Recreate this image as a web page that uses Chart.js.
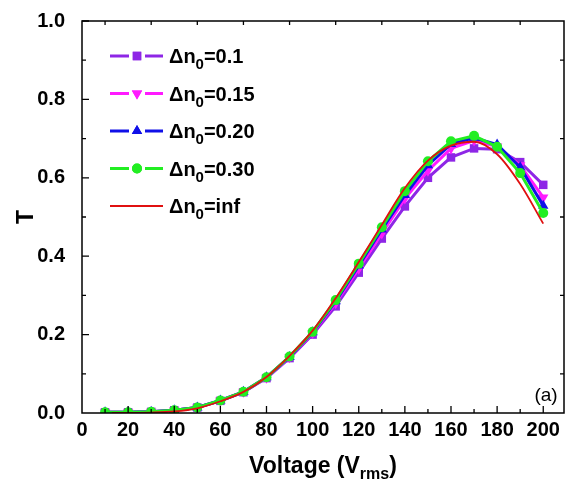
<!DOCTYPE html>
<html>
<head>
<meta charset="utf-8">
<script src="https://cdn.jsdelivr.net/npm/chart.js@4.4.1/dist/chart.umd.min.js"></script>
<style>
html, body { margin: 0; padding: 0; background: #fff; }
#wrap { width: 570px; height: 482px; }
</style>
</head>
<body>
<div id="wrap"><canvas id="chart" width="570" height="482"></canvas></div>
<script>
// voltage steps (Vrms) for the measured curves
var voltage = [10, 20, 30, 40, 50, 60, 70, 80, 90, 100, 110, 120, 130, 140, 150, 160, 170, 180, 190, 200];

var tDn010 = [0.002, 0.002, 0.003, 0.007, 0.014, 0.031, 0.053, 0.089, 0.140, 0.200, 0.272, 0.358, 0.445, 0.527, 0.600, 0.652, 0.675, 0.673, 0.640, 0.582];
var tDn015 = [0.002, 0.002, 0.003, 0.007, 0.014, 0.032, 0.054, 0.090, 0.142, 0.204, 0.280, 0.368, 0.458, 0.547, 0.618, 0.675, 0.695, 0.680, 0.632, 0.550];
var tDn020 = [0.002, 0.002, 0.003, 0.007, 0.014, 0.032, 0.054, 0.091, 0.143, 0.206, 0.285, 0.376, 0.468, 0.556, 0.632, 0.686, 0.702, 0.685, 0.627, 0.529];
var tDn030 = [0.002, 0.002, 0.003, 0.007, 0.014, 0.032, 0.054, 0.091, 0.144, 0.207, 0.288, 0.381, 0.474, 0.566, 0.642, 0.693, 0.707, 0.679, 0.612, 0.510];

// the "inf" curve is a smooth line
var voltageInf = [13, 20, 30, 40, 50, 60, 70, 80, 90, 100, 110, 120, 130, 140, 150, 160, 170, 180, 190, 200];
var tDnInf = [0.000, 0.000, 0.001, 0.004, 0.012, 0.030, 0.054, 0.092, 0.146, 0.210, 0.293, 0.385, 0.480, 0.574, 0.644, 0.682, 0.692, 0.660, 0.584, 0.483];

var legendLabels = ['0.1', '0.15', '0.20', '0.30', 'inf'];
var xTickLabels = [0, 20, 40, 60, 80, 100, 120, 140, 160, 180, 200];
var yTickLabels = [0.0, 0.2, 0.4, 0.6, 0.8, 1.0];

var colPurple = '#8e26e6',
	colMagenta = '#ff1aff',
	colBlue = '#1010e8',
	colGreen = '#22ee22',
	colRed = '#e01010';

function pts(xs, ys) {
	var out = [];
	for (var i = 0; i < xs.length; i++) {
		out.push({x: xs[i], y: ys[i]});
	}
	return out;
}

var FONT = '"Liberation Sans", Arial, sans-serif';

// frame, inward ticks, legend, axis titles and the (a) label
var decorations = {
	id: 'decorations',
	afterDraw: function(chart) {
		var ctx = chart.ctx,
			a = chart.chartArea,
			xs = chart.scales.x,
			ys = chart.scales.y;

		ctx.save();
		ctx.strokeStyle = '#000';
		ctx.lineWidth = 1.5;
		ctx.strokeRect(a.left, a.top, a.right - a.left, a.bottom - a.top);

		ctx.lineWidth = 1.3;
		ctx.beginPath();
		// bottom axis: major every 20, minor every 10; top only minor
		for (var v = 0; v <= 200; v += 10) {
			var px = xs.getPixelForValue(v);
			var major = (v % 20 == 0);
			if (v > 0) {
				ctx.moveTo(px, a.bottom);
				ctx.lineTo(px, a.bottom - (major ? 7 : 4));
			}
			if (!major) {
				ctx.moveTo(px, a.top);
				ctx.lineTo(px, a.top + 4);
			}
		}
		// left axis: major every 0.2, minor every 0.1; right only minor
		for (var k = 1; k <= 10; k++) {
			var yv = k / 10;
			var py = ys.getPixelForValue(yv);
			var ymaj = (k % 2 == 0);
			ctx.moveTo(a.left, py);
			ctx.lineTo(a.left + (ymaj ? 7 : 4), py);
			if (!ymaj) {
				ctx.moveTo(a.right, py);
				ctx.lineTo(a.right - 4, py);
			}
		}
		ctx.stroke();

		// legend
		var styles = [
			{c: colPurple, s: 'rect', r: 6, rot: 0},
			{c: colMagenta, s: 'triangle', r: 6, rot: 180},
			{c: colBlue, s: 'triangle', r: 6, rot: 0},
			{c: colGreen, s: 'circle', r: 5, rot: 0},
			{c: colRed, s: null}
		];
		var lx0 = a.left + 28, lx1 = a.left + 81, mx = a.left + 55;
		for (var i = 0; i < styles.length; i++) {
			var st = styles[i];
			var ly = a.top + 35 + i * 37.5;
			ctx.strokeStyle = st.c;
			ctx.beginPath();
			if (st.s) {
				ctx.lineWidth = 3;
				ctx.moveTo(lx0, ly); ctx.lineTo(mx - 8, ly);
				ctx.moveTo(mx + 8, ly); ctx.lineTo(lx1, ly);
				ctx.stroke();
				ctx.fillStyle = st.c;
				Chart.helpers.drawPoint(ctx, {pointStyle: st.s, radius: st.r, rotation: st.rot, borderWidth: 0}, mx, ly);
				ctx.fill();
			} else {
				ctx.lineWidth = 1.8;
				ctx.moveTo(lx0, ly); ctx.lineTo(lx1, ly);
				ctx.stroke();
			}
			var tx = a.left + 87;
			ctx.fillStyle = '#000';
			ctx.textBaseline = 'alphabetic';
			ctx.textAlign = 'left';
			ctx.font = 'bold 20px ' + FONT;
			ctx.fillText('\u0394n', tx, ly + 7);
			tx += ctx.measureText('\u0394n').width;
			ctx.font = 'bold 15px ' + FONT;
			ctx.fillText('0', tx, ly + 13);
			tx += ctx.measureText('0').width;
			ctx.font = 'bold 20px ' + FONT;
			ctx.fillText('=' + legendLabels[i], tx, ly + 7);
		}

		// x axis title with subscript
		ctx.fillStyle = '#000';
		ctx.font = 'bold 23px ' + FONT;
		var t1 = 'Voltage (V', t3 = ')';
		var w1 = ctx.measureText(t1).width, w3 = ctx.measureText(t3).width;
		ctx.font = 'bold 16px ' + FONT;
		var w2 = ctx.measureText('rms').width;
		var sx = (a.left + a.right) / 2 - (w1 + w2 + w3) / 2;
		ctx.textAlign = 'left';
		ctx.font = 'bold 23px ' + FONT;
		ctx.fillText(t1, sx, 473);
		ctx.font = 'bold 16px ' + FONT;
		ctx.fillText('rms', sx + w1, 479);
		ctx.font = 'bold 23px ' + FONT;
		ctx.fillText(t3, sx + w1 + w2, 473);

		// y axis title
		ctx.save();
		ctx.translate(33, (a.top + a.bottom) / 2);
		ctx.rotate(-Math.PI / 2);
		ctx.textAlign = 'center';
		ctx.fillText('T', 0, 0);
		ctx.restore();

		// panel label
		ctx.font = '19px ' + FONT;
		ctx.textAlign = 'center';
		ctx.fillText('(a)', 546, 401);
		ctx.restore();
	}
};

var ctx = document.getElementById('chart').getContext('2d');
var chart = new Chart(ctx, {
	type: 'line',
	data: {
		datasets: [{
			label: 'dn0=inf',
			data: pts(voltageInf, tDnInf),
			borderColor: colRed,
			borderWidth: 1.8,
			pointRadius: 0,
			cubicInterpolationMode: 'monotone',
			order: 0
		}, {
			label: 'dn0=0.30',
			data: pts(voltage, tDn030),
			borderColor: colGreen,
			backgroundColor: colGreen,
			borderWidth: 3,
			pointStyle: 'circle',
			pointRadius: 5,
			pointBorderWidth: 0,
			order: 1
		}, {
			label: 'dn0=0.20',
			data: pts(voltage, tDn020),
			borderColor: colBlue,
			backgroundColor: colBlue,
			borderWidth: 3,
			pointStyle: 'triangle',
			pointRadius: 6,
			pointBorderWidth: 0,
			order: 2
		}, {
			label: 'dn0=0.15',
			data: pts(voltage, tDn015),
			borderColor: colMagenta,
			backgroundColor: colMagenta,
			borderWidth: 3,
			pointStyle: 'triangle',
			pointRotation: 180,
			pointRadius: 6,
			pointBorderWidth: 0,
			order: 3
		}, {
			label: 'dn0=0.1',
			data: pts(voltage, tDn010),
			borderColor: colPurple,
			backgroundColor: colPurple,
			borderWidth: 3,
			pointStyle: 'rect',
			pointRadius: 6,
			pointBorderWidth: 0,
			order: 4
		}]
	},
	options: {
		responsive: false,
		animation: false,
		events: [],
		layout: {padding: {top: 20, right: 4, left: 0, bottom: 0}},
		plugins: {
			legend: {display: false},
			tooltip: {enabled: false}
		},
		scales: {
			x: {
				type: 'linear',
				min: 0,
				max: 209,
				grid: {display: false},
				border: {display: false},
				afterBuildTicks: function(s) {
					s.ticks = xTickLabels.map(function(v) { return {value: v}; });
				},
				afterFit: function(s) { s.height = 69; },
				ticks: {
					color: '#000',
					padding: -3,
					maxRotation: 0,
					autoSkip: false,
					font: {family: FONT, size: 20, weight: 'bold'}
				}
			},
			y: {
				type: 'linear',
				min: 0,
				max: 1,
				grid: {display: false},
				border: {display: false},
				afterBuildTicks: function(s) {
					s.ticks = yTickLabels.map(function(v) { return {value: v}; });
				},
				afterFit: function(s) { s.width = 82; },
				ticks: {
					color: '#000',
					padding: 9,
					font: {family: FONT, size: 20, weight: 'bold'},
					callback: function(v) { return Number(v).toFixed(1); }
				}
			}
		}
	},
	plugins: [decorations]
});
</script>
</body>
</html>
